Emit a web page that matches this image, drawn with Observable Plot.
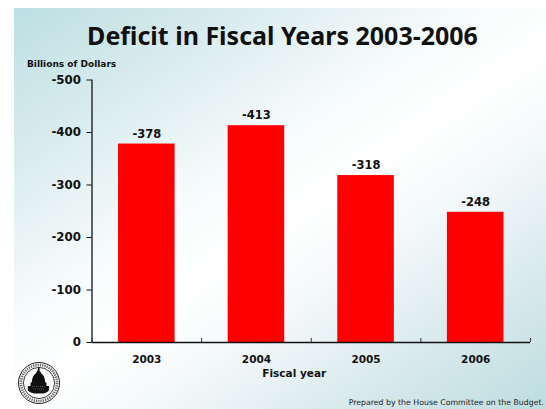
<!DOCTYPE html>
<html>
<head>
<meta charset="utf-8">
<script src="https://cdn.jsdelivr.net/npm/d3@7"></script>
<script src="https://cdn.jsdelivr.net/npm/@observablehq/plot@0.6"></script>
<style>
  html, body { margin: 0; padding: 0; background: #fff; }
  #slide { position: relative; width: 546px; height: 409px; overflow: hidden; background: #fff; }
  #panel { position: absolute; left: 14px; top: 8px; right: 0; bottom: 0;
    background: linear-gradient(146deg, #bcdfe3 0%, #d9ebee 20%, #f6fbfb 40%, #ffffff 52%, #f4f9fa 64%, #d8e9ec 82%, #bcdde1 100%); }
  #title { position: absolute; left: 0; width: 565px; top: 18px; text-align: center;
    font: bold 25px "Noto Sans", sans-serif; color: #111; white-space: nowrap; }
  #unit { position: absolute; left: 27px; top: 59px; font: bold 9px "DejaVu Sans", sans-serif; color: #111; white-space: nowrap; }
  #credit { position: absolute; right: 2px; top: 398px; font: 7.8px "DejaVu Sans", sans-serif; color: #222; white-space: nowrap; }
  #chart { position: absolute; left: 0; top: 0; }
  #seal { position: absolute; left: 17px; top: 361px; }
</style>
</head>
<body>
<div id="slide">
  <div id="panel"></div>
  <div id="chart"></div>
  <div id="title">Deficit in Fiscal Years 2003-2006</div>
  <div id="unit">Billions of Dollars</div>
  <div id="credit">Prepared by the House Committee on the Budget.</div>
  <svg id="seal" width="44" height="44" viewBox="0 0 44 44">
    <circle cx="22" cy="22" r="20.5" fill="#fff" stroke="#222" stroke-width="1"/>
    <circle cx="22" cy="22" r="18" fill="none" stroke="#666" stroke-width="2.6" stroke-dasharray="1.3 1"/>
    <circle cx="22" cy="22" r="15.6" fill="#fff" stroke="#222" stroke-width="0.9"/>
    <path d="M21.4 6h1.2v4c1 .6 1.4 1.4 1.5 2.2 2.6 1.6 3.9 5 4.2 9.2h1.2v3.5h2.6v4.7c-1.5 1.4-3.6 2.6-5.6 3H17c-2-.4-4.6-1.6-6.2-3v-4.7h2.7v-3.5h1.2c.3-4.2 1.7-7.6 4.3-9.2.1-.8.5-1.6 1.4-2.2z" fill="#111"/>
    <path d="M15 25.5h14M16 28h12" stroke="#777" stroke-width="0.6" stroke-dasharray="1 1"/>
  </svg>
</div>
<script>
  // Federal deficit by fiscal year, billions of dollars
  const years = [2003, 2004, 2005, 2006];
  const deficits = [-378, -413, -318, -248];
  const yTicks = [-500, -400, -300, -200, -100, 0];
  const yearEdges = [2002.5, 2003.5, 2004.5, 2005.5, 2006.5];
  const barHalfWidth = 0.258;

  const rows = years.map((year, i) => ({year, deficit: deficits[i]}));
  const tickFont = {fontFamily: "DejaVu Sans", fontWeight: "bold", fill: "#111"};

  const chart = Plot.plot({
    width: 546,
    height: 409,
    marginLeft: 91.5,
    marginRight: 16,
    marginTop: 79.5,
    marginBottom: 67,
    style: {background: "transparent", overflow: "visible"},
    x: {domain: [2002.5, 2006.5]},
    y: {domain: [0, -500]},
    marks: [
      Plot.rectY(rows, {
        x1: d => d.year - barHalfWidth,
        x2: d => d.year + barHalfWidth,
        y1: 0,
        y2: "deficit",
        fill: "#ff0000"
      }),
      Plot.ruleX([2002.5], {stroke: "#111", strokeWidth: 1.3}),
      Plot.ruleY([0], {stroke: "#111", strokeWidth: 1.3}),
      Plot.axisY({
        ticks: yTicks, tickSize: 5, tickPadding: 6, label: null,
        tickFormat: d => String(d), stroke: "#111", fontSize: 11.8, ...tickFont
      }),
      Plot.axisX({ticks: yearEdges, tickSize: -4, tickFormat: () => "", label: null, stroke: "#333"}),
      Plot.axisX({
        ticks: years, tickSize: 0, tickPadding: 13, label: null,
        tickFormat: d => String(d), fontSize: 10.5, ...tickFont
      }),
      Plot.text(["Fiscal year"], {
        frameAnchor: "bottom", dx: -17, dy: 34, fontSize: 10.5, ...tickFont
      }),
      Plot.text(rows, {
        x: "year", y: "deficit", text: d => String(d.deficit),
        dy: -10, fontSize: 11.5, ...tickFont
      })
    ]
  });
  document.getElementById("chart").append(chart);
</script>
</body>
</html>
